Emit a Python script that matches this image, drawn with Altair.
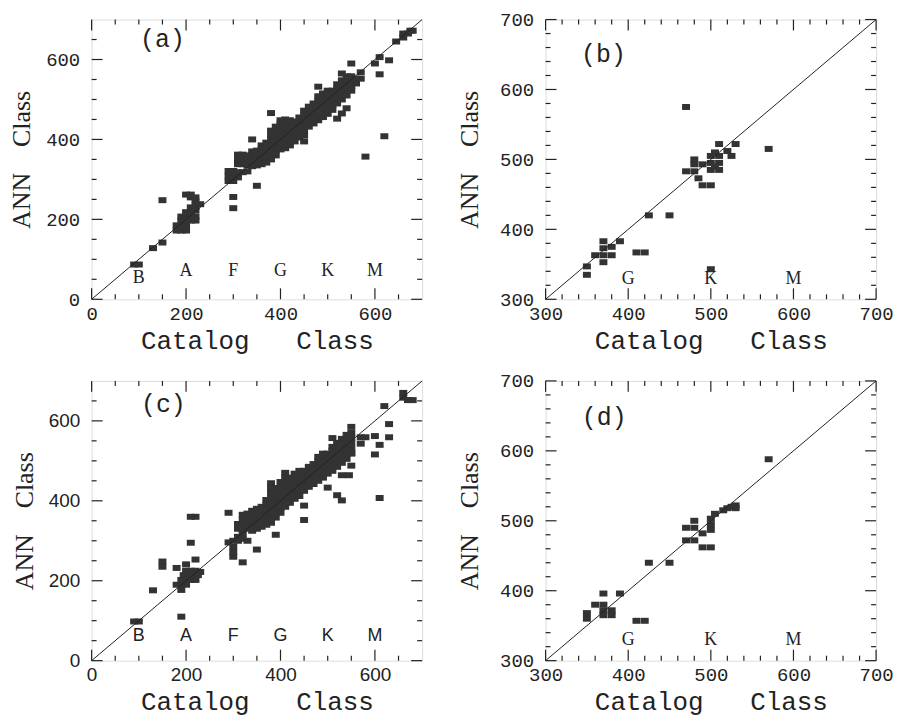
import altair as alt
import pandas as pd

INK = "#222222"
SQ = "#333333"
RECT = "M-1,-0.75L1,-0.75L1,0.75L-1,0.75Z"
W, H = 332, 281
MAJ, MIN = 11, 5
NB = "\u00a0"

# ---------------- panel (a) ----------------
a_x = [90, 100, 130, 150, 150,
       180, 190, 200, 180, 190, 200, 190, 200, 210, 220, 190, 200, 210, 220,
       200, 210, 220, 210, 220, 230, 220, 210, 220, 200, 210,
       290, 300, 290, 300, 310, 290, 300, 310, 320, 330,
       300, 300, 350, 340, 380, 450, 480, 520, 530, 540, 530, 550, 570, 570,
       600, 610, 610, 630, 620, 580, 645, 660, 660, 670, 675, 680]
a_y = [87, 87, 128, 142, 248,
       172, 172, 172, 185, 185, 185, 197, 197, 197, 197, 207, 207, 207, 207,
       218, 218, 222, 230, 232, 238, 245, 255, 255, 262, 262,
       296, 296, 308, 308, 305, 321, 321, 318, 318, 320,
       256, 228, 284, 400, 466, 395, 532, 452, 465, 478, 565, 590, 552, 568,
       590, 606, 563, 598, 408, 357, 645, 655, 665, 665, 672, 672]
a_band = {
    310: [338, 350, 362],
    320: [338, 350, 362],
    330: [335, 348, 360],
    340: [333, 345, 358, 370],
    350: [335, 348, 360, 372],
    360: [338, 350, 362, 375, 385],
    370: [342, 355, 368, 380, 392],
    380: [350, 362, 375, 388, 400, 412, 422],
    390: [360, 372, 385, 398, 410, 422, 432],
    400: [375, 388, 400, 412, 425, 438, 448],
    410: [378, 390, 402, 415, 428, 440, 450],
    420: [385, 398, 410, 422, 435, 448],
    430: [395, 408, 420, 432, 445],
    440: [405, 418, 430, 442, 455],
    450: [410, 422, 435, 448, 460, 472],
    460: [432, 445, 458, 470, 482],
    470: [440, 452, 465, 478, 490],
    480: [448, 460, 472, 485, 498, 508],
    490: [456, 468, 480, 492, 505, 515],
    500: [464, 476, 488, 500, 512, 522],
    510: [474, 486, 498, 510, 522],
    520: [490, 502, 514, 526, 538],
    530: [500, 512, 524, 536, 548],
    540: [510, 522, 534, 546, 558],
    550: [522, 534, 546, 558],
    560: [540, 552],
}
a_letters = ["B", "A", "F", "G", "K", "M"]
a_let_x = [100, 200, 300, 400, 500, 600]
a_let_y = [52, 70, 70, 70, 70, 70]

# ---------------- panel (b) ----------------
b_x = [350, 350, 360, 370, 380, 370, 370, 370, 380, 390, 410, 420, 425, 450, 500,
       470, 480, 480, 490, 480, 485, 490, 500,
       500, 500, 500, 510, 510, 510, 505, 505, 510, 520, 525, 530, 570, 470]
b_y = [347, 335, 363, 363, 363, 353, 373, 383, 375, 383, 367, 367, 420, 420, 343,
       483, 483, 493, 493, 500, 473, 463, 463,
       485, 495, 505, 485, 495, 505, 490, 510, 522, 512, 505, 522, 515, 575]
b_letters = ["G", "K", "M"]
b_let_x = [400, 500, 600]
b_let_y = [329, 329, 329]

# ---------------- panel (c) ----------------
c_x = [90, 100, 130, 150, 150, 180, 200, 220, 210, 210, 220, 190,
       190, 180, 190, 200, 190, 200, 210, 220, 195, 205, 215, 225, 200, 210, 220, 230,
       290, 300, 300, 300, 300, 310, 320, 330, 310, 320,
       290, 350, 320, 390, 410, 400, 450, 450, 500, 520, 530, 530, 545, 550, 550, 550,
       510, 570, 580, 570, 600, 610, 600, 630, 630, 620, 610, 660, 660, 670, 680]
c_y = [98, 98, 176, 235, 248, 232, 241, 253, 295, 360, 360, 110,
       177, 190, 190, 190, 202, 202, 202, 202, 214, 214, 214, 214, 225, 225, 225, 222,
       296, 260, 272, 285, 300, 310, 318, 300, 300, 305,
       370, 278, 246, 315, 470, 447, 388, 352, 433, 414, 401, 464, 464, 488, 518, 585,
       557, 559, 559, 543, 562, 540, 516, 592, 559, 637, 407, 670, 658, 652, 652]
c_band = {
    310: [330, 342],
    320: [328, 340, 352, 365],
    330: [330, 342, 355, 368],
    340: [325, 338, 350, 362, 375],
    350: [330, 342, 355, 368, 380],
    360: [335, 348, 360, 372, 385],
    370: [340, 352, 365, 378, 390, 402],
    380: [345, 358, 370, 382, 395, 408, 420, 432, 444],
    390: [358, 370, 382, 395, 408, 420, 432],
    400: [370, 382, 395, 408, 420, 432],
    410: [385, 398, 410, 422, 435, 448, 458],
    420: [395, 408, 420, 432, 445, 458],
    430: [405, 418, 430, 442, 455, 468],
    440: [412, 425, 438, 450, 462, 475],
    450: [425, 438, 450, 462, 475],
    460: [435, 448, 460, 472, 485],
    470: [442, 455, 468, 480, 492],
    480: [450, 462, 475, 488, 500, 510],
    490: [458, 470, 482, 495, 508, 518],
    500: [468, 480, 492, 505, 518],
    510: [475, 488, 500, 512, 525, 535],
    520: [485, 498, 510, 522, 535, 545],
    530: [495, 508, 520, 532, 545, 555],
    540: [505, 518, 530, 542, 555, 565],
    550: [520, 532, 545, 558, 570],
}
c_letters = ["B", "A", "F", "G", "K", "M"]
c_let_x = [100, 200, 300, 400, 500, 600]
c_let_y = [62, 62, 62, 62, 62, 62]

# ---------------- panel (d) ----------------
d_x = [350, 350, 360, 370, 370, 380, 380, 370, 370, 390, 410, 420, 425, 450, 490, 500,
       470, 480, 470, 480, 480, 490, 500, 500, 500, 505, 515, 520, 525, 530, 530, 570]
d_y = [360, 368, 380, 380, 372, 372, 365, 365, 396, 396, 357, 357, 440, 440, 462, 462,
       472, 472, 490, 490, 500, 482, 487, 495, 503, 510, 515, 518, 520, 518, 522, 588]
d_letters = ["G", "K", "M"]
d_let_x = [400, 500, 600]
d_let_y = [330, 330, 330]


def flatten(xs, ys, band):
    ox, oy = list(xs), list(ys)
    for bx, col in band.items():
        for by in col:
            ox.append(bx)
            oy.append(by)
    return ox, oy


def make_panel(xs, ys, dom, major, minor, letters, let_x, let_y, letter_font,
               tag, tag_x, tag_y, label_font, label_size, ytitle_pad, ylabel_pad):
    sx = alt.Scale(domain=dom, nice=False, zero=False)
    sy = alt.Scale(domain=dom, nice=False, zero=False)
    xaxis = alt.Axis(values=major, title="Catalog" + NB * 3 + "Class",
                     titleFont="Liberation Mono",
                     titleFontSize=26, titleFontWeight="normal", titleColor=INK,
                     titlePadding=4, labelFont=label_font, labelFontSize=label_size,
                     labelColor=INK, labelPadding=5, ticks=False, domain=False,
                     grid=False, labelFlush=False)
    yaxis = alt.Axis(values=major, title="ANN" + NB * 4 + "Class",
                     titleFont="Liberation Serif",
                     titleFontSize=26, titleFontWeight="normal", titleColor=INK,
                     titlePadding=ytitle_pad, labelFont=label_font, labelFontSize=label_size,
                     labelColor=INK, labelPadding=ylabel_pad, ticks=False, domain=False,
                     grid=False, labelFlush=False)
    X = alt.X("x:Q", scale=sx, axis=xaxis)
    Y = alt.Y("y:Q", scale=sy, axis=yaxis)
    XV = alt.X("v:Q", scale=sx, axis=xaxis)
    YV = alt.Y("v:Q", scale=sy, axis=yaxis)

    layers = []
    pts = pd.DataFrame({"x": xs, "y": ys})
    layers.append(alt.Chart(pts).mark_point(shape=RECT, size=64, filled=True, color=SQ,
                                            opacity=1, strokeWidth=0).encode(x=X, y=Y))
    layers.append(alt.Chart(pd.DataFrame({"x": dom, "y": dom})).mark_line(
        color=INK, strokeWidth=1).encode(x=X, y=Y))
    for vals, ln in ((major, MAJ), (minor, MIN)):
        tdf = pd.DataFrame({"v": vals})
        layers.append(alt.Chart(tdf).mark_rule(color=INK, strokeWidth=1.2).encode(
            x=XV, y=alt.value(H), y2=alt.value(H - ln)))
        layers.append(alt.Chart(tdf).mark_rule(color=INK, strokeWidth=1.2).encode(
            x=XV, y=alt.value(0), y2=alt.value(ln)))
        layers.append(alt.Chart(tdf).mark_rule(color=INK, strokeWidth=1.2).encode(
            y=YV, x=alt.value(0), x2=alt.value(ln)))
        layers.append(alt.Chart(tdf).mark_rule(color=INK, strokeWidth=1.2).encode(
            y=YV, x=alt.value(W), x2=alt.value(W - ln)))
    ldf = pd.DataFrame({"x": let_x, "y": let_y, "t": letters})
    layers.append(alt.Chart(ldf).mark_text(font=letter_font, fontSize=18, color=INK,
                                           baseline="middle").encode(x=X, y=Y, text="t:N"))
    tdf2 = pd.DataFrame({"x": [tag_x], "y": [tag_y], "t": [tag]})
    layers.append(alt.Chart(tdf2).mark_text(font="Liberation Mono", fontSize=25, color=INK,
                                            baseline="middle").encode(x=X, y=Y, text="t:N"))
    return alt.layer(*layers).properties(width=W, height=H)


maj1 = [0, 200, 400, 600]
min1 = [v for v in range(50, 700, 50) if v not in maj1]
maj2 = [300, 400, 500, 600, 700]
min2 = [v for v in range(320, 700, 20) if v not in maj2]

ax_, ay_ = flatten(a_x, a_y, a_band)
cx_, cy_ = flatten(c_x, c_y, c_band)

pa = make_panel(ax_, ay_, [0, 700], maj1, min1, a_letters, a_let_x, a_let_y,
                "Liberation Serif", "(a)", 150, 652, "Liberation Mono", 19, 11, 12)
pb = make_panel(b_x, b_y, [300, 700], maj2, min2, b_letters, b_let_x, b_let_y,
                "Liberation Serif", "(b)", 370, 650, "Liberation Mono", 19, 17, 12)
pc = make_panel(cx_, cy_, [0, 700], maj1, min1, c_letters, c_let_x, c_let_y,
                "Liberation Sans", "(c)", 152, 641, "Liberation Sans", 19, 11, 12)
pd_ = make_panel(d_x, d_y, [300, 700], maj2, min2, d_letters, d_let_x, d_let_y,
                 "Liberation Serif", "(d)", 371, 649, "Liberation Mono", 19, 17, 12)

chart = alt.concat(pa, pb, pc, pd_, columns=2, spacing={"row": 82, "column": 124},
                   bounds="flush").properties(
    padding={"left": 0, "top": 0, "right": 0, "bottom": 0}
).configure_view(stroke=INK, strokeWidth=1.5).configure(background="white")

chart.save("out.html", embed_options={"renderer": "svg", "actions": False})
